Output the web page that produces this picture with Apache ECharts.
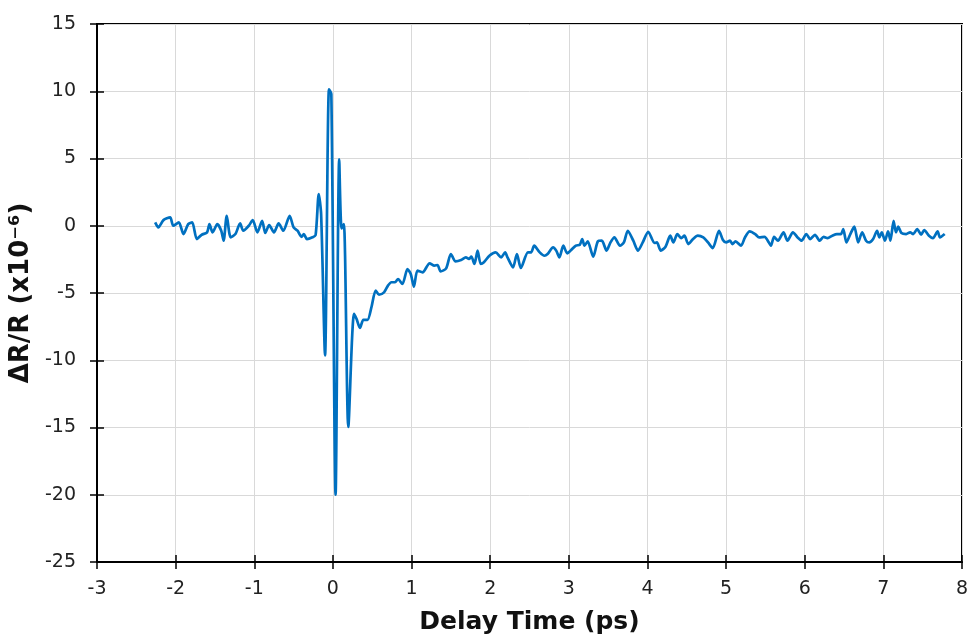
<!DOCTYPE html>
<html>
<head>
<meta charset="utf-8">
<script src="https://cdn.jsdelivr.net/npm/echarts@6/dist/echarts.min.js"></script>
<style>
html,body{margin:0;padding:0;background:#fff;}
#chart{width:970px;height:636px;}
</style>
</head>
<body>
<div id="chart"></div>
<script>
const delayTime = [
-2.26,-2.22,-2.155,-2.07,-2.03,-1.96,-1.90,-1.84,-1.79,-1.73,-1.67,-1.60,-1.57,-1.53,-1.47,-1.42,-1.39,-1.35,-1.30,-1.24,
-1.18,-1.14,-1.07,-1.02,-0.96,-0.90,-0.86,-0.81,-0.75,-0.69,-0.63,-0.55,-0.50,-0.45,-0.40,-0.37,-0.33,-0.26,-0.22,-0.18,
-0.15,-0.10,-0.05,-0.02,0.034,0.08,0.11,0.14,0.196,0.268,0.30,0.344,0.387,0.44,0.49,0.544,0.586,0.65,0.70,0.744,
0.79,0.828,0.884,0.948,0.99,1.03,1.075,1.14,1.23,1.29,1.33,1.37,1.44,1.50,1.56,1.63,1.69,1.73,1.76,1.80,
1.84,1.88,1.92,1.99,2.07,2.14,2.19,2.22,2.29,2.34,2.39,2.48,2.52,2.56,2.63,2.69,2.73,2.80,2.84,2.88,
2.93,2.98,3.03,3.09,3.14,3.17,3.20,3.24,3.31,3.37,3.42,3.48,3.53,3.58,3.65,3.70,3.75,3.82,3.88,3.94,
4.01,4.09,4.12,4.17,4.23,4.29,4.33,4.38,4.43,4.47,4.52,4.58,4.64,4.71,4.77,4.83,4.91,4.96,5.00,5.05,
5.08,5.12,5.19,5.24,5.30,5.37,5.42,5.49,5.53,5.57,5.61,5.66,5.73,5.78,5.85,5.91,5.96,6.02,6.07,6.13,
6.19,6.24,6.29,6.35,6.41,6.46,6.49,6.53,6.58,6.63,6.68,6.73,6.78,6.82,6.87,6.92,6.95,6.98,7.02,7.06,
7.09,7.13,7.16,7.19,7.23,7.29,7.34,7.38,7.43,7.48,7.52,7.58,7.63,7.69,7.72,7.78
];
const deltaR = [
0.25,-0.12,0.42,0.62,0.0,0.25,-0.62,0.12,0.25,-0.99,-0.67,-0.49,0.12,-0.49,0.12,-0.37,-1.11,0.74,-0.86,-0.62,
0.17,-0.37,0.0,0.42,-0.49,0.37,-0.54,0.05,-0.49,0.17,-0.37,0.74,-0.12,-0.37,-0.82,-0.62,-0.99,-0.86,-0.7,2.35,
0.87,-9.64,10.14,9.8,-20.0,4.94,-0.2,0.12,-14.96,-6.55,-6.92,-7.6,-7.0,-7.0,-6.06,-4.82,-5.12,-4.95,-4.45,-4.2,
-4.2,-3.96,-4.33,-3.22,-3.59,-4.53,-3.34,-3.46,-2.79,-2.97,-2.92,-3.39,-3.17,-2.10,-2.65,-2.55,-2.35,-2.47,-2.3,-2.84,
-1.85,-2.84,-2.72,-2.23,-1.98,-2.35,-1.98,-2.35,-3.09,-2.1,-3.14,-1.98,-1.98,-1.48,-1.98,-2.23,-2.1,-1.61,-1.85,-2.35,
-1.48,-2.05,-1.8,-1.48,-1.41,-0.99,-1.48,-1.16,-2.3,-1.16,-1.11,-1.85,-1.24,-0.87,-1.48,-1.24,-0.37,-1.11,-1.85,-1.24,
-0.45,-1.28,-1.24,-1.85,-1.56,-0.74,-1.24,-0.62,-0.92,-0.74,-1.36,-0.99,-0.74,-0.87,-1.24,-1.66,-0.37,-1.06,-1.24,-1.11,
-1.36,-1.16,-1.48,-0.87,-0.42,-0.62,-0.87,-0.82,-1.11,-1.48,-0.82,-1.11,-0.49,-1.11,-0.49,-0.87,-1.11,-0.62,-0.99,-0.67,
-1.11,-0.82,-0.92,-0.74,-0.62,-0.62,-0.25,-1.24,-0.62,-0.07,-1.24,-0.49,-1.11,-1.24,-0.99,-0.37,-0.87,-0.49,-1.11,-0.42,
-1.11,0.37,-0.49,-0.07,-0.54,-0.62,-0.49,-0.62,-0.25,-0.67,-0.32,-0.74,-0.92,-0.42,-0.87,-0.62
];
const xTitle = 'Delay Time (ps)';
const yTitle = 'ΔR/R (x10⁻⁶)';
const xMin = -3, xMax = 8, xStep = 1;
const yMin = -25, yMax = 15, yStep = 5;

const points = delayTime.map((t, i) => [t, deltaR[i]]);
const font = 'DejaVu Sans, Verdana, sans-serif';
const chart = echarts.init(document.getElementById('chart'));
const tickStyle = { color: '#000', width: 1.5 };
chart.setOption({
  animation: false,
  backgroundColor: '#fff',
  grid: { left: 97, right: 8, top: 24, bottom: 74, show: true, borderColor: '#000', borderWidth: 2,
          outerBoundsMode: 'none', containLabel: false },
  xAxis: [{
    type: 'value', min: xMin, max: xMax, interval: xStep,
    name: xTitle, nameLocation: 'middle', nameGap: 48,
    nameTextStyle: { fontFamily: font, fontWeight: 'bold', fontSize: 25, color: '#111' },
    axisLine: { show: true, onZero: false, lineStyle: { color: '#000', width: 2 } },
    axisTick: { show: true, length: 7, lineStyle: tickStyle },
    axisLabel: { fontFamily: font, fontSize: 19, color: '#222', margin: 18 },
    splitLine: { show: true, lineStyle: { color: '#d9d9d9', width: 1 } }
  }, {
    type: 'value', min: 0, max: xMax - xMin, interval: xStep, position: 'bottom',
    axisLine: { show: false, onZero: true, onZeroAxisIndex: 1 },
    axisLabel: { show: false }, splitLine: { show: false },
    axisTick: { show: true, inside: false, length: -7, lineStyle: tickStyle }
  }],
  yAxis: [{
    type: 'value', min: yMin, max: yMax, interval: yStep,
    name: yTitle, nameLocation: 'middle', nameGap: 56,
    nameTextStyle: { fontFamily: font, fontWeight: 'bold', fontSize: 26, color: '#111' },
    axisLine: { show: true, onZero: false, lineStyle: { color: '#000', width: 2 } },
    axisTick: { show: true, length: 7, lineStyle: tickStyle },
    axisLabel: { fontFamily: font, fontSize: 19, color: '#222', margin: 21 },
    splitLine: { show: true, lineStyle: { color: '#d9d9d9', width: 1 } }
  }, {
    type: 'value', min: 0, max: yMax - yMin, interval: yStep, position: 'left',
    axisLine: { show: false, onZero: true, onZeroAxisIndex: 1 },
    axisLabel: { show: false }, splitLine: { show: false },
    axisTick: { show: true, inside: false, length: -7, lineStyle: tickStyle }
  }],
  series: [{
    type: 'line', data: points, xAxisIndex: 0, yAxisIndex: 0,
    showSymbol: false, smooth: 0.25, z: 3,
    lineStyle: { color: '#0070C0', width: 2.7 },
    itemStyle: { color: '#0070C0' }
  }]
});
</script>
</body>
</html>
